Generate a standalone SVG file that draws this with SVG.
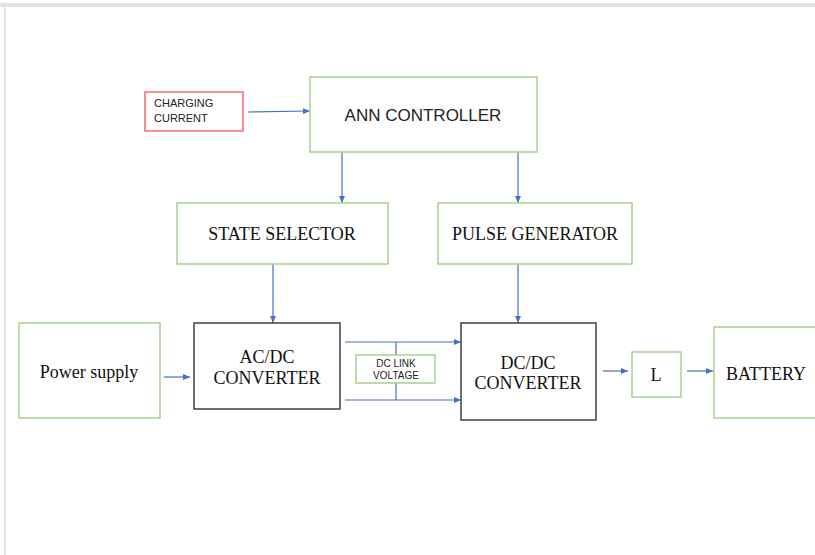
<svg xmlns="http://www.w3.org/2000/svg" width="815" height="555" viewBox="0 0 815 555">
<defs>
<marker id="ah" markerWidth="7" markerHeight="6" refX="7" refY="3" orient="auto" markerUnits="userSpaceOnUse">
<path d="M0,0 L7,3 L0,6 Z" fill="#4472c4"/>
</marker>
<style>
.g{fill:#fff;stroke:#a9d18e;stroke-width:1.5}
.k{fill:#fff;stroke:#404040;stroke-width:1.5}
.r{fill:#fff;stroke:#f26b6b;stroke-width:1.5}
.c{fill:none;stroke:#4472c4;stroke-width:1.2}
.a{marker-end:url(#ah)}
.s{font-family:"Liberation Sans",Arial,sans-serif;fill:#222}
.t{font-family:"Liberation Serif","Times New Roman",serif;fill:#111;font-size:18px;text-anchor:middle}
</style>
</defs>
<rect width="815" height="555" fill="#fff"/>
<rect x="0" y="3" width="815" height="4" fill="#e2e2e2"/>
<rect x="4" y="3" width="2" height="552" fill="#e2e2e2"/>

<g id="connectors">
<line class="c a" x1="248" y1="112" x2="310" y2="111"/>
<line class="c a" x1="342" y1="152" x2="342" y2="203"/>
<line class="c a" x1="518" y1="152" x2="518" y2="203"/>
<line class="c a" x1="273" y1="264" x2="273" y2="323"/>
<line class="c a" x1="518" y1="264" x2="518" y2="323"/>
<line class="c a" x1="164" y1="377" x2="190" y2="377"/>
<line class="c a" x1="345" y1="342" x2="461" y2="342"/>
<line class="c a" x1="345" y1="400" x2="461" y2="400"/>
<line class="c" x1="396" y1="342" x2="396" y2="355"/>
<line class="c" x1="396" y1="383" x2="396" y2="400"/>
<line class="c a" x1="603" y1="371" x2="628" y2="371"/>
<line class="c a" x1="687" y1="371" x2="713" y2="371"/>
</g>

<g id="charging-current">
<rect class="r" x="145" y="92" width="98" height="39"/>
<text class="s" font-size="11" x="154" y="107">CHARGING</text>
<text class="s" font-size="11" x="154" y="122">CURRENT</text>
</g>

<g id="ann-controller">
<rect class="g" x="310" y="77" width="227" height="75"/>
<text class="s" font-size="17" x="423" y="121" text-anchor="middle">ANN CONTROLLER</text>
</g>

<g id="state-selector">
<rect class="g" x="177" y="203" width="211" height="61"/>
<text class="t" x="282" y="240">STATE SELECTOR</text>
</g>

<g id="pulse-generator">
<rect class="g" x="438" y="203" width="194" height="61"/>
<text class="t" x="535" y="240">PULSE GENERATOR</text>
</g>

<g id="power-supply">
<rect class="g" x="19" y="323" width="141" height="95"/>
<text class="t" x="89" y="378" font-size="19">Power supply</text>
</g>

<g id="acdc-converter">
<rect class="k" x="194" y="323" width="146" height="86"/>
<text class="t" x="267" y="363" font-size="19">AC/DC</text>
<text class="t" x="267" y="384" font-size="19">CONVERTER</text>
</g>

<g id="dc-link-voltage">
<rect class="g" x="356" y="355" width="79" height="28"/>
<text class="s" font-size="10" x="396" y="367" text-anchor="middle">DC LINK</text>
<text class="s" font-size="10" x="396" y="379" text-anchor="middle">VOLTAGE</text>
</g>

<g id="dcdc-converter">
<rect class="k" x="461" y="323" width="135" height="97"/>
<text class="t" x="528" y="369" font-size="19">DC/DC</text>
<text class="t" x="528" y="389" font-size="19">CONVERTER</text>
</g>

<g id="inductor-l">
<rect class="g" x="632" y="352" width="49" height="45"/>
<text class="t" x="656" y="381">L</text>
</g>

<g id="battery">
<rect class="g" x="714" y="327" width="110" height="91"/>
<text class="t" x="766" y="380">BATTERY</text>
</g>
</svg>
